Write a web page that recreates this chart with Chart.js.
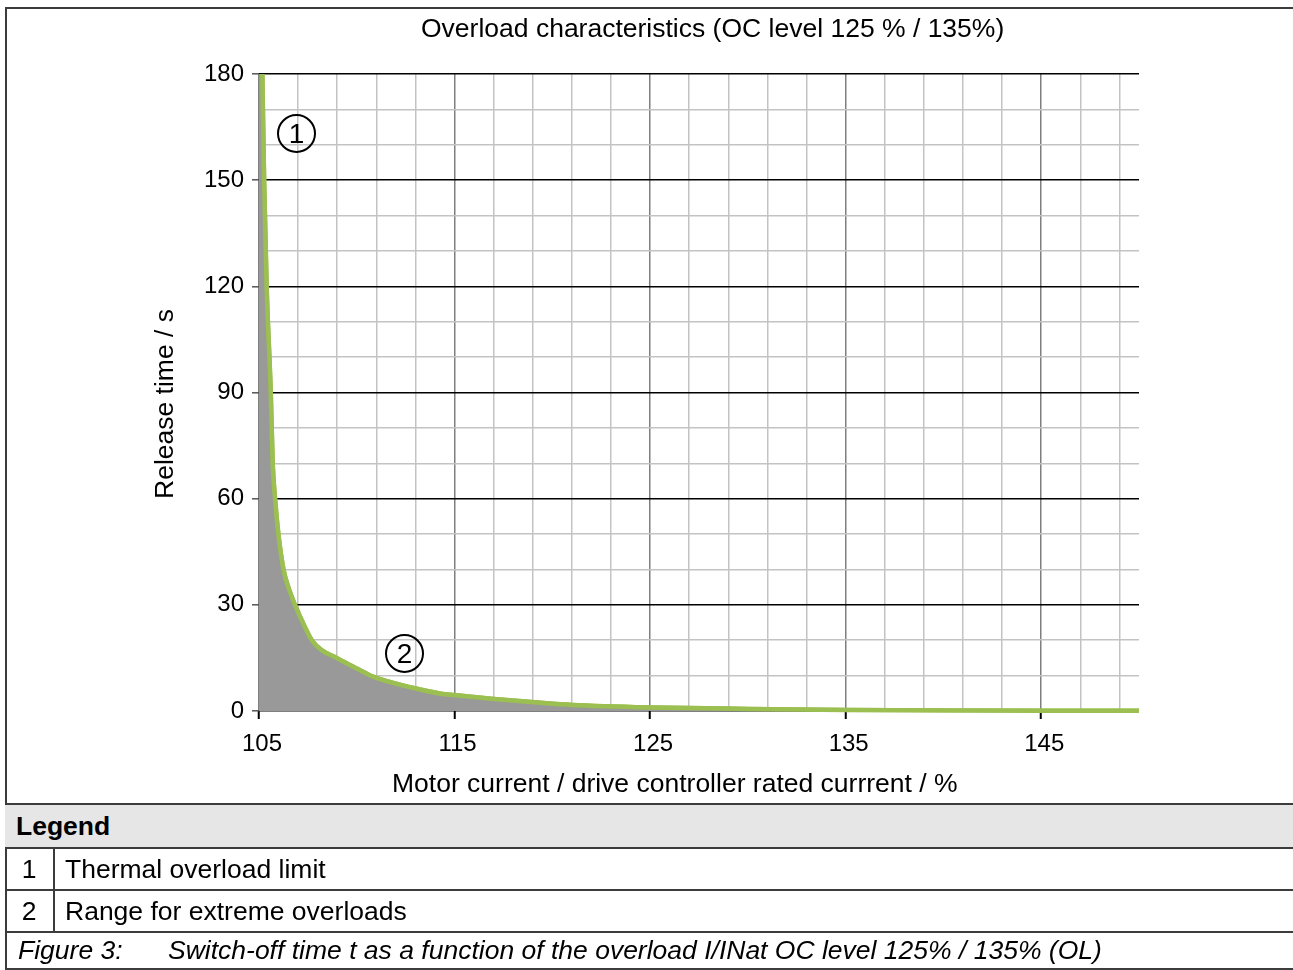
<!DOCTYPE html>
<html>
<head>
<meta charset="utf-8">
<script src="https://cdn.jsdelivr.net/npm/chart.js@4/dist/chart.umd.min.js"></script>
<style>
  html, body { margin: 0; padding: 0; background: #fff; }
  body { width: 1293px; height: 970px; position: relative; overflow: hidden;
         font-family: "Liberation Sans", Arial, sans-serif; font-size: 26.5px; color: #000; }
  #repo { position: absolute; left: 0; top: 0; }
  .txt { position: absolute; white-space: nowrap; line-height: 26px; }
  .frame { position: absolute; left: 5px; top: 7px; width: 1288px; height: 961px;
           border-left: 2px solid #3c3c3c; border-top: 2px solid #3c3c3c; }
  .row { position: absolute; left: 5px; width: 1288px; border-top: 2px solid #3c3c3c;
         box-sizing: border-box; display: flex; align-items: center; }
  .circ { position: absolute; width: 35px; height: 35px; border: 2.5px solid #000; border-radius: 50%;
          display: flex; align-items: center; justify-content: center; font-size: 28px; line-height: 1; }
</style>
</head>
<body>
<canvas id="repo" width="1293" height="803"></canvas>

<div class="frame"></div>
<div class="txt" style="left:421px; top:15px;">Overload characteristics (OC level 125 % / 135%)</div>
<div class="txt" style="left:392px; top:770px;">Motor current / drive controller rated currrent / %</div>
<div class="txt" style="left:54px; top:391px; width:220px; text-align:center; transform:rotate(-90deg);">Release time / s</div>

<div class="circ" style="left:277px; top:114px;">1</div>
<div class="circ" style="left:385px; top:634px;">2</div>

<div class="row" style="top:803px; height:44px; background:#e6e6e6;"><b style="margin-left:11px;">Legend</b></div>
<div class="row" style="top:847px; height:42px;"><span style="width:48px; text-align:center;">1</span><span style="margin-left:12px;">Thermal overload limit</span></div>
<div class="row" style="top:889px; height:42px;"><span style="width:48px; text-align:center;">2</span><span style="margin-left:12px;">Range for extreme overloads</span></div>
<div class="row" style="top:931px; height:39px; border-bottom:2px solid #3c3c3c;"><i style="margin-left:13px; width:150px;">Figure 3:</i><i>Switch-off time t as a function of the overload I/INat OC level 125% / 135% (OL)</i></div>
<div style="position:absolute; left:53px; top:847px; width:2px; height:84px; background:#3c3c3c;"></div>

<script>
// motor current in % of rated current, release time in s
const currentPct = [105.17, 105.26, 105.39, 105.6, 105.7, 105.82, 105.99, 106.25, 106.5, 106.84, 107.35, 107.7, 108.2, 108.97, 110.0, 110.83, 112.9, 114.3, 115, 117, 119.4, 121, 125, 130, 135, 140, 145, 150];
const releaseTime = [180, 150, 120, 90, 70, 60, 50, 40, 35, 30, 23.7, 20, 17.2, 15, 12, 9.7, 6.5, 4.9, 4.5, 3.4, 2.3, 1.7, 1.0, 0.6, 0.3, 0.15, 0.1, 0.1];

const xGrid = [105, 107, 109, 111, 113, 115, 117, 119, 121, 123, 125, 127, 129, 131, 133, 135, 137, 139, 141, 143, 145, 147, 149];
const xLabels = [105, 115, 125, 135, 145];
const yGrid = [0, 10, 20, 30, 40, 50, 60, 70, 80, 90, 100, 110, 120, 130, 140, 150, 160, 170, 180];
const yLabels = [0, 30, 60, 90, 120, 150, 180];

const curve = currentPct.map((x, i) => ({ x: x, y: releaseTime[i] }));
// gray area starts at the left axis edge
const area = [{ x: 105, y: releaseTime[0] }].concat(curve);

const fontTick = { family: '"Liberation Sans", Arial, sans-serif', size: 24 };

// redraw the limit line so it sits above the grid
const lineOnTop = {
  id: 'lineOnTop',
  afterDraw(chart) {
    const meta = chart.getDatasetMeta(1);
    const a = chart.chartArea;
    const ctx = chart.ctx;
    ctx.save();
    ctx.beginPath();
    ctx.rect(a.left - 3, a.top, a.width + 6, a.height + 3);
    ctx.clip();
    meta.dataset.draw(ctx, a);
    ctx.restore();
  }
};

const bar = document.getElementById('repo').getContext('2d');
const chart = new Chart(bar, {
  type: 'line',
  data: {
    datasets: [
      {
        label: 'Range for extreme overloads',
        data: area,
        borderWidth: 0,
        borderColor: 'rgba(0,0,0,0)',
        backgroundColor: '#999999',
        fill: 'origin',
        pointRadius: 0,
        cubicInterpolationMode: 'monotone'
      },
      {
        label: 'Thermal overload limit',
        data: curve,
        borderColor: '#9bbf50',
        borderWidth: 4.5,
        fill: false,
        pointRadius: 0,
        cubicInterpolationMode: 'monotone'
      }
    ]
  },
  options: {
    responsive: false,
    animation: false,
    events: [],
    layout: { padding: { top: 74, left: 179, right: 154, bottom: 32 } },
    plugins: {
      legend: { display: false },
      title: { display: false },
      tooltip: { enabled: false }
    },
    scales: {
      x: {
        type: 'linear',
        min: 105,
        max: 150,
        z: 1,
        afterBuildTicks: s => { s.ticks = xGrid.map(v => ({ value: v })); },
        afterFit: s => { s.height = 60; },
        border: { display: false },
        grid: {
          color: c => xLabels.includes(c.tick.value) ? '#7f7f7f' : '#c3c3c3',
          lineWidth: 1.5,
          tickColor: c => xLabels.includes(c.tick.value) ? '#000' : 'rgba(0,0,0,0)',
          tickLength: 8,
          tickWidth: 2
        },
        ticks: {
          color: '#000',
          font: fontTick,
          padding: 11,
          labelOffset: 3,
          maxRotation: 0,
          autoSkip: false,
          callback: v => xLabels.includes(v) ? String(v) : ''
        }
      },
      y: {
        min: 0,
        max: 180,
        z: 1,
        afterBuildTicks: s => { s.ticks = yGrid.map(v => ({ value: v })); },
        afterFit: s => { s.width = 80; },
        border: { display: false },
        grid: {
          color: c => yLabels.includes(c.tick.value) ? '#000' : '#c3c3c3',
          lineWidth: c => yLabels.includes(c.tick.value) ? 1.6 : 1.5,
          tickColor: c => yLabels.includes(c.tick.value) ? '#555' : 'rgba(0,0,0,0)',
          tickLength: 7,
          tickWidth: 1.5
        },
        ticks: {
          color: '#000',
          font: fontTick,
          padding: 8,
          autoSkip: false,
          callback: v => yLabels.includes(v) ? String(v) : ''
        }
      }
    }
  },
  plugins: [lineOnTop]
});
</script>
</body>
</html>
